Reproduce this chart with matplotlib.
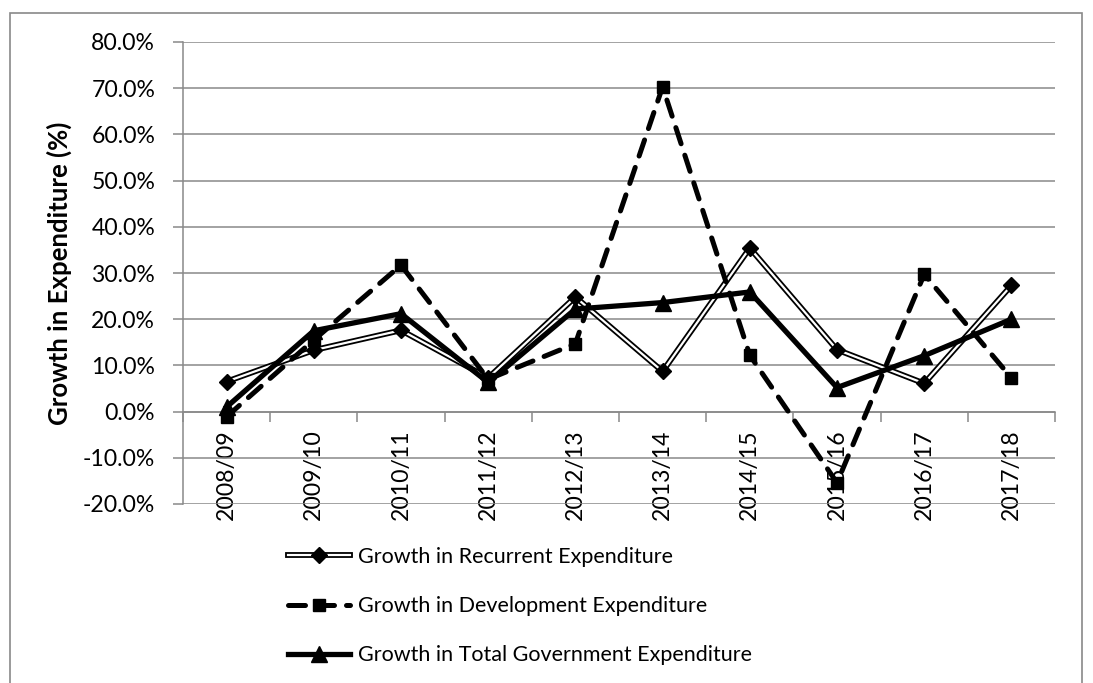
import matplotlib
matplotlib.use("Agg")
import matplotlib.pyplot as plt
from matplotlib.lines import Line2D
from matplotlib.patches import Rectangle
from matplotlib.ticker import FuncFormatter, FixedLocator

categories = ["2008/09", "2009/10", "2010/11", "2011/12", "2012/13",
              "2013/14", "2014/15", "2015/16", "2016/17", "2017/18"]
recurrent = [6.5, 13.3, 17.6, 7.3, 24.8, 8.7, 35.4, 13.4, 6.1, 27.3]
development = [-1.1, 15.5, 31.7, 7.0, 14.7, 70.3, 12.2, -15.4, 29.7, 7.3]
total = [1.0, 17.5, 21.2, 6.3, 22.2, 23.6, 25.9, 5.2, 12.1, 20.0]
yticks = [-20, -10, 0, 10, 20, 30, 40, 50, 60, 70, 80]

plt.rcParams['font.family'] = ['Lato', 'DejaVu Sans']
FS = 15.5
TFS = 16.6
W, H = 1093, 683
fig = plt.figure(figsize=(W / 100, H / 100), dpi=100)
ax = fig.add_axes([183 / W, 1 - 504 / H, (1055 - 183) / W, (504 - 42) / H])

grid_c = "#898989"
fig.patches.append(Rectangle((10 / W, -0.1), (1082 - 10) / W, 1.1 - 13 / H,
                             transform=fig.transFigure, fill=False,
                             edgecolor=grid_c, linewidth=1.2))

x = list(range(len(categories)))

# Recurrent: double line (black outline, white core)
ax.plot(x, recurrent, color="black", linewidth=4.2, zorder=3, solid_joinstyle="miter")
ax.plot(x, recurrent, color="white", linewidth=1.6, zorder=3.1, solid_joinstyle="miter")
ax.plot(x, recurrent, linestyle="none", marker="D", markersize=8,
        color="black", zorder=3.2)

# Development: dashed with squares
ax.plot(x, development, color="black", linewidth=3.6, linestyle=(0, (3.4, 2.4)),
        dash_capstyle="round", marker="s", markersize=9, zorder=4)

# Total: thick solid with triangles
ax.plot(x, total, color="black", linewidth=3.8, marker="^", markersize=11, zorder=5)

ax.set_xlim(-0.5, len(categories) - 0.5)
ax.set_ylim(-20, 80)
ax.yaxis.set_major_locator(FixedLocator(yticks))
ax.yaxis.set_major_formatter(FuncFormatter(lambda v, p: f"{v:.1f}%"))
ax.grid(axis="y", color=grid_c, linewidth=1.1)
ax.set_axisbelow(True)

for s in ["top", "right"]:
    ax.spines[s].set_visible(False)
ax.spines["left"].set_color(grid_c)
ax.spines["left"].set_linewidth(1.1)
ax.spines["bottom"].set_position(("data", 0))
ax.spines["bottom"].set_color(grid_c)
ax.spines["bottom"].set_linewidth(1.1)

ax.set_xticks(x)
ax.set_xticklabels(categories, rotation=90, fontsize=TFS, va="top")
ax.set_xticks([i - 0.5 for i in range(len(categories) + 1)], minor=True)
ax.tick_params(axis="x", which="major", length=0, pad=13)
ax.tick_params(axis="x", which="minor", length=7, color=grid_c, width=1.1, direction="out")
ax.tick_params(axis="y", length=7, color=grid_c, width=1.1, labelsize=TFS, pad=13)

ax.set_ylabel("Growth in Expenditure (%)", fontsize=18.5, fontweight="bold", labelpad=8)

h_rec = (Line2D([], [], color="black", linewidth=4.2),
         Line2D([], [], color="white", linewidth=1.6),
         Line2D([], [], linestyle="none", marker="D", markersize=8, color="black"))
h_dev = Line2D([], [], color="black", linewidth=3.6, linestyle=(0, (3.4, 2.4)),
               dash_capstyle="round", marker="s", markersize=9)
h_tot = Line2D([], [], color="black", linewidth=3.8, marker="^", markersize=11)

leg = fig.legend([h_rec, h_dev, h_tot],
                 ["Growth in Recurrent Expenditure",
                  "Growth in Development Expenditure",
                  "Growth in Total Government Expenditure"],
                 loc="upper left", bbox_to_anchor=(288 / W, 1 - 547 / H),
                 frameon=False, fontsize=FS, handlelength=2.9, handletextpad=0.37,
                 labelspacing=1.35, borderaxespad=0, borderpad=0)

fig.savefig("out.png", dpi=100)
